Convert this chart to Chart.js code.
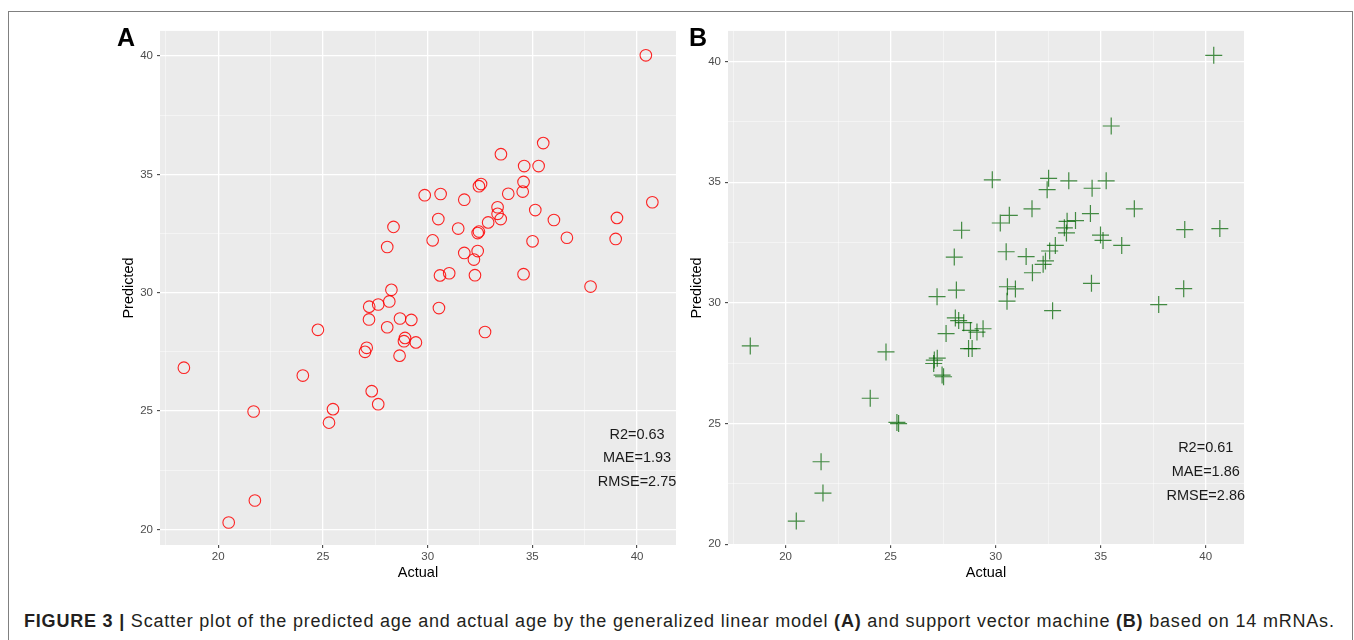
<!DOCTYPE html>
<html>
<head>
<meta charset="utf-8">
<script src="https://cdn.jsdelivr.net/npm/chart.js@4.4.1/dist/chart.umd.min.js"></script>
<style>
    body { margin: 0; width: 1354px; height: 640px; overflow: hidden; position: relative; background: #fff; font-family: "Liberation Sans", Arial, sans-serif; }
    #frame { position: absolute; left: 8px; top: 11px; width: 1345px; height: 700px; border: 1px solid #808080; box-sizing: border-box; }
    .panel { position: absolute; top: 20px; width: 590px; height: 570px; }
    #wrapA { left: 100px; }
    #wrapB { left: 668px; }
    .tag { position: absolute; top: 25px; font-weight: bold; font-size: 25px; line-height: 25px; color: #000; }
    #caption { position: absolute; left: 24px; top: 611px; font-size: 18px; letter-spacing: 0.8px; line-height: 20px; color: #231f20; white-space: nowrap; }
</style>
</head>
<body>
<div id="frame"></div>
<div class="panel" id="wrapA"><canvas id="chartA" width="590" height="570"></canvas></div>
<div class="panel" id="wrapB"><canvas id="chartB" width="590" height="570"></canvas></div>
<div class="tag" style="left:117px">A</div>
<div class="tag" style="left:689px">B</div>
<div id="caption"><b>FIGURE 3 |</b> Scatter plot of the predicted age and actual age by the generalized linear model <b>(A)</b> and support vector machine <b>(B)</b> based on 14 mRNAs.</div>

<script>
// Werte
const actualA = [40.42, 35.52, 33.50, 34.61, 35.30, 32.55, 32.45, 34.58, 34.54, 33.85,
    29.86, 30.62, 31.75, 40.73, 28.37, 33.34, 35.14, 33.34, 30.51, 33.49,
    32.89, 36.03, 39.04, 31.46, 32.45, 32.39, 30.24, 35.01, 36.65, 38.98,
    28.07, 31.75, 32.39, 32.21, 30.59, 31.03, 32.26, 34.58, 28.27, 37.78,
    27.21, 27.64, 28.17, 27.20, 28.07, 30.54, 28.68, 29.22, 32.74, 24.76,
    28.92, 28.87, 29.44, 27.09, 27.01, 28.66, 18.36, 24.04, 27.33, 27.64,
    21.69, 25.48, 25.29, 21.75, 20.50];
const predictedA = [40.03, 36.32, 35.85, 35.35, 35.35, 34.59, 34.50, 34.68, 34.27, 34.18,
    34.12, 34.17, 33.93, 33.82, 32.78, 33.61, 33.49, 33.33, 33.11, 33.11,
    32.97, 33.07, 33.16, 32.71, 32.58, 32.52, 32.21, 32.17, 32.32, 32.27,
    31.93, 31.68, 31.76, 31.40, 30.73, 30.82, 30.74, 30.78, 30.12, 30.26,
    29.41, 29.50, 29.63, 28.87, 28.54, 29.35, 28.91, 28.85, 28.34, 28.43,
    28.09, 27.95, 27.90, 27.67, 27.50, 27.34, 26.83, 26.50, 25.84, 25.29,
    24.98, 25.08, 24.51, 21.22, 20.29];

const actualB = [40.38, 35.50, 29.84, 32.52, 32.45, 33.48, 34.59, 35.26, 31.73, 36.60,
    30.65, 30.22, 34.51, 28.38, 28.03, 33.40, 33.80, 33.27, 33.37, 39.00,
    40.67, 34.99, 35.11, 36.00, 32.84, 32.57, 30.50, 31.45, 32.37, 32.26,
    31.75, 34.56, 30.56, 30.94, 38.95, 28.13, 27.21, 30.54, 32.71, 37.76,
    28.08, 28.24, 28.48, 27.64, 28.80, 29.11, 29.40, 28.71, 28.88, 27.08,
    27.05, 27.22, 27.45, 27.52, 18.32, 24.78, 24.03, 25.30, 25.38, 21.69,
    21.78, 20.51];
const predictedB = [40.26, 37.33, 35.10, 35.16, 34.69, 35.06, 34.75, 35.06, 33.90, 33.90,
    33.63, 33.31, 33.70, 33.01, 31.90, 33.38, 33.41, 33.11, 32.90, 33.04,
    33.08, 32.81, 32.59, 32.38, 32.38, 32.15, 32.12, 31.92, 31.74, 31.60,
    31.25, 30.81, 30.67, 30.58, 30.59, 30.53, 30.26, 30.07, 29.68, 29.93,
    29.38, 29.27, 29.18, 28.73, 28.86, 28.79, 28.93, 28.11, 28.11, 27.63,
    27.49, 27.71, 27.01, 26.94, 28.22, 27.97, 26.05, 25.05, 25.00, 23.42,
    22.12, 20.96];

// Achsen-Ticks (Haupt- und Nebenlinien, Beschriftung nur bei Vielfachen von 5)
const xTicks = [17.5, 20, 22.5, 25, 27.5, 30, 32.5, 35, 37.5, 40];
const yTicks = [20, 22.5, 25, 27.5, 30, 32.5, 35, 37.5, 40];

// Kennzahlen, die unten rechts im Panel stehen
const statsA = ['R2=0.63', 'MAE=1.93', 'RMSE=2.75'];
const statsB = ['R2=0.61', 'MAE=1.86', 'RMSE=2.86'];
const statsX = 40;
const statsY = [24, 23, 22];

const isMajor = v => v % 5 === 0;

// Grauer ggplot-Hintergrund und Textannotation
const ggPanel = {
    id: 'ggPanel',
    beforeDraw(chart) {
        const a = chart.chartArea;
        const ctx = chart.ctx;
        ctx.save();
        ctx.fillStyle = '#ebebeb';
        ctx.fillRect(a.left, a.top, a.right - a.left, a.bottom - a.top);
        ctx.restore();
    },
    afterDatasetsDraw(chart, args, opts) {
        const ctx = chart.ctx;
        const sx = chart.scales.x;
        const sy = chart.scales.y;
        ctx.save();
        ctx.fillStyle = '#1a1a1a';
        ctx.font = '14.5px "Liberation Sans", Arial, sans-serif';
        ctx.textAlign = 'center';
        ctx.textBaseline = 'middle';
        opts.lines.forEach((txt, i) => {
            ctx.fillText(txt, sx.getPixelForValue(statsX), sy.getPixelForValue(statsY[i]));
        });
        ctx.restore();
    }
};

function gridOpts() {
    return {
        color: ctx => isMajor(ctx.tick.value) ? '#ffffff' : 'rgba(255,255,255,0.75)',
        lineWidth: ctx => isMajor(ctx.tick.value) ? 1.3 : 0.6,
        tickColor: ctx => isMajor(ctx.tick.value) ? '#333333' : 'rgba(0,0,0,0)',
        tickLength: 3,
        tickWidth: 1
    };
}

function makePanel(canvasId, xs, ys, xRange, yRange, dataset, stats) {
    const points = xs.map((x, i) => ({ x: x, y: ys[i] }));
    new Chart(document.getElementById(canvasId), {
        type: 'scatter',
        data: {
            datasets: [Object.assign({ data: points, showLine: false }, dataset)]
        },
        plugins: [ggPanel],
        options: {
            responsive: false,
            animation: false,
            layout: { padding: { left: 16, top: 8, right: 14, bottom: 0 } },
            plugins: {
                legend: { display: false },
                tooltip: { enabled: false },
                ggPanel: { lines: stats }
            },
            scales: {
                x: {
                    type: 'linear',
                    min: xRange[0],
                    max: xRange[1],
                    afterBuildTicks: s => { s.ticks = xTicks.map(v => ({ value: v })); },
                    afterFit: s => { s.height = 45; },
                    border: { display: false },
                    grid: gridOpts(),
                    ticks: {
                        color: '#4d4d4d',
                        font: { size: 11.5, family: '"Liberation Sans", Arial, sans-serif' },
                        padding: 2,
                        maxRotation: 0,
                        autoSkip: false,
                        callback: v => isMajor(v) ? String(v) : ''
                    },
                    title: {
                        display: true,
                        text: 'Actual',
                        color: '#000',
                        font: { size: 14.5, family: '"Liberation Sans", Arial, sans-serif' },
                        padding: { top: 0, bottom: 8 }
                    }
                },
                y: {
                    type: 'linear',
                    min: yRange[0],
                    max: yRange[1],
                    afterBuildTicks: s => { s.ticks = yTicks.map(v => ({ value: v })); },
                    afterFit: s => { s.width = 44; },
                    border: { display: false },
                    grid: gridOpts(),
                    ticks: {
                        color: '#4d4d4d',
                        font: { size: 11.5, family: '"Liberation Sans", Arial, sans-serif' },
                        padding: 4,
                        autoSkip: false,
                        callback: v => isMajor(v) ? String(v) : ''
                    },
                    title: {
                        display: true,
                        text: 'Predicted',
                        color: '#000',
                        font: { size: 14.5, family: '"Liberation Sans", Arial, sans-serif' },
                        padding: { top: 4, bottom: 0 }
                    }
                }
            }
        }
    });
}

makePanel('chartA', actualA, predictedA, [17.22, 41.86], [19.34, 41.06], {
    pointStyle: 'circle',
    pointRadius: 5.8,
    borderWidth: 1.1,
    borderColor: 'rgba(255,0,0,0.85)',
    backgroundColor: 'rgba(0,0,0,0)'
}, statsA);

makePanel('chartB', actualB, predictedB, [17.26, 41.82], [19.97, 41.27], {
    pointStyle: 'cross',
    pointRadius: 8.5,
    borderWidth: 1.2,
    borderColor: 'rgba(0,100,0,0.72)',
    backgroundColor: 'rgba(0,100,0,0.72)'
}, statsB);
</script>
</body>
</html>
